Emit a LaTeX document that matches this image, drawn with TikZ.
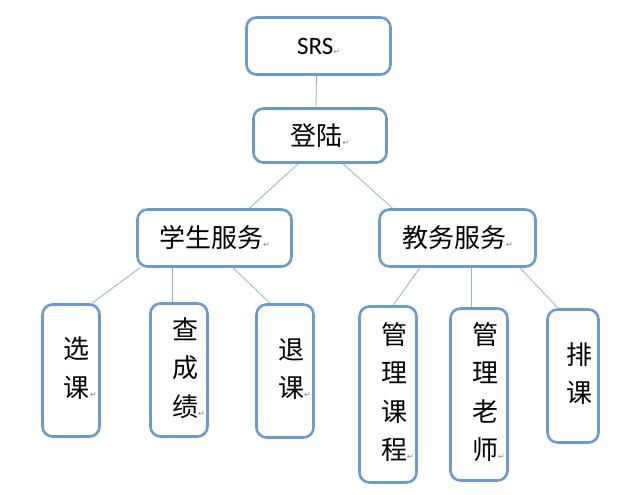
\documentclass[tikz,border=0pt]{standalone}
\usepackage{fontspec}
\newfontfamily\cjk{Noto Sans CJK SC}
\newfontfamily\latf{Carlito}
\newfontfamily\symf{DejaVu Sans}
\definecolor{boxc}{HTML}{6A9BCB}
\definecolor{linec}{HTML}{8CB2DA}
\newcommand\retm{{\symf\fontsize{8}{9}\selectfont\textcolor{gray}{↵}}}
\newcommand\vstk[1]{\kern12pt{\fontsize{26}{38.5}\selectfont\begin{tabular}{@{}c@{}}#1\end{tabular}}}
\begin{document}
\begin{tikzpicture}[x=1pt,y=-1pt,
  box/.style={draw=boxc,line width=2.6pt,rounded corners=10pt,fill=white,inner sep=0pt,
    font=\cjk\fontsize{26}{32}\selectfont,align=center},
  conn/.style={draw=linec,line width=0.8pt}]
\useasboundingbox (0,0) rectangle (640,495);
\node[box,minimum width=144pt,minimum height=57pt] (srs) at (318.5,46) {\latf\fontsize{25}{30}\selectfont SRS\retm};
\node[box,minimum width=133pt,minimum height=54pt] (login) at (320,135.5) {登陆\retm};
\node[box,minimum width=154pt,minimum height=57pt] (stu) at (214.5,238) {学生服务\retm};
\node[box,minimum width=156pt,minimum height=57pt] (jw) at (457.5,238) {教务服务\retm};
\node[box,minimum width=57pt,minimum height=132pt] (xk) at (71,370.5) {\vstk{选\\课\rlap{\retm}}};
\node[box,minimum width=57pt,minimum height=133pt] (cj) at (179,370) {\vstk{查\\成\\绩\rlap{\retm}}};
\node[box,minimum width=57pt,minimum height=133pt] (tk) at (285,371) {\vstk{退\\课\rlap{\retm}}};
\node[box,minimum width=57pt,minimum height=176pt] (glkc) at (388,394.5) {\vstk{管\\理\\课\\程\rlap{\retm}}};
\node[box,minimum width=57pt,minimum height=172pt] (glls) at (479,394.5) {\vstk{管\\理\\老\\师\rlap{\retm}}};
\node[box,minimum width=51pt,minimum height=133pt] (pk) at (573,376) {\vstk{排\\课}};
\draw[conn] ([xshift=-2pt]srs.south) -- ([xshift=-4pt]login.north);
\draw[conn] ([xshift=-22pt]login.south) -- ([xshift=35pt]stu.north);
\draw[conn] ([xshift=23pt]login.south) -- ([xshift=-65pt]jw.north);
\draw[conn] ([xshift=-74.5pt]stu.south) -- ([xshift=21pt]xk.north);
\draw[conn] ([xshift=-42.5pt]stu.south) -- ([xshift=-7pt]cj.north);
\draw[conn] ([xshift=18.5pt]stu.south) -- ([xshift=-15pt]tk.north);
\draw[conn] ([xshift=-37.5pt]jw.south) -- ([xshift=5pt]glkc.north);
\draw[conn] ([xshift=13.5pt]jw.south) -- ([xshift=-8pt]glls.north);
\draw[conn] ([xshift=62.5pt]jw.south) -- ([xshift=-15pt]pk.north);
\end{tikzpicture}
\end{document}
